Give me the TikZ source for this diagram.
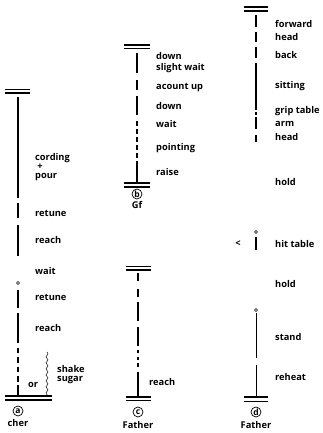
\documentclass[tikz,border=0pt]{standalone}
\usepackage{fontspec}
\setmainfont{Open Sans}
\usetikzlibrary{decorations.pathmorphing}
\tikzset{
  lab/.style={anchor=west, font=\bfseries\fontsize{9.3}{10}\selectfont, inner sep=0},
  clab/.style={anchor=center, font=\bfseries\fontsize{9.3}{10}\selectfont, inner sep=0},
  circ/.style={anchor=center, circle, draw, line width=0.7pt, inner sep=0.3pt, minimum size=10pt, font=\bfseries\fontsize{8.5}{9}\selectfont},
  seg/.style={line width=1.4pt},
  thinseg/.style={line width=0.9pt},
  bar/.style={line width=1.2pt},
  ring/.style={line width=0.6pt},
}
\begin{document}
\begin{tikzpicture}[x=1pt,y=-1pt]
\useasboundingbox (0,0) rectangle (323,433);
% ---------- column a ----------
\draw[bar] (5,89.5) -- (30,89.5); \draw[bar] (5,93) -- (30,93);
\foreach \a/\b in {97/198,203/218,225/256,290/308,313/343,348/353,357/363,367/372,376/382,385/396}
  \draw[seg] (18,\a) -- (18,\b);
\draw[ring] (18,283) circle (1.5);
\draw[bar] (5,396) -- (52,396); \draw[bar] (5,400) -- (52,400);
\draw[line width=0.5pt, decorate, decoration={snake, amplitude=1pt, segment length=6pt}] (47,352) -- (47,396);
\node[lab] (a1) at (35,158) {cording};
\node[clab] (a2) at (40,167) {+};
\node[lab] (a3) at (35,177) {pour};
\node[lab] (a4) at (35,213) {retune};
\node[lab] (a5) at (35,240) {reach};
\node[lab] (a6) at (35,271) {wait};
\node[lab] (a7) at (35,297) {retune};
\node[lab] (a8) at (35,328) {reach};
\node[lab] (a9) at (57,369) {shake};
\node[lab] (a10) at (57,380) {sugar};
\node[clab] (a11) at (33,385) {or};
\node[circ] (ac) at (18,411) {a};
\node[clab] (an) at (18,423) {cher};
% ---------- column b ----------
\draw[bar] (124,45) -- (150,45); \draw[bar] (124,48.5) -- (150,48.5);
\foreach \a/\b in {53/73,80/90,96/115,121/126,129/134,137/142,145/150,153/158,161/183}
  \draw[seg] (137,\a) -- (137,\b);
\draw[bar] (124,183) -- (150,183); \draw[bar] (124,187) -- (150,187);
\node[lab] (b1) at (156,56) {down};
\node[lab] (b2) at (156,68) {slight wait};
\node[lab] (b3) at (156,88) {acount up};
\node[lab] (b4) at (156,106) {down};
\node[lab] (b5) at (156,124) {wait};
\node[lab] (b6) at (156,148) {pointing};
\node[lab] (b7) at (156,172) {raise};
\node[circ] (bc) at (137,194) {b};
\node[clab] (bn) at (137,205) {Gf};
% ---------- column c ----------
\draw[bar] (126,266.5) -- (151,266.5); \draw[bar] (126,270) -- (151,270);
\foreach \a/\b in {273/281,289/297,302/321,327/346,350/353,357/360,363/367,372/397}
  \draw[seg] (138,\a) -- (138,\b);
\draw[bar] (126,397) -- (151,397); \draw[bar] (126,400.5) -- (151,400.5);
\node[lab] (c1) at (149,382) {reach};
\node[circ] (cc) at (138,412) {c};
\node[clab] (cn) at (138,425) {Father};
% ---------- column d ----------
\draw[bar] (244,7) -- (268,7); \draw[bar] (244,11) -- (268,11);
\foreach \a/\b in {15/27,32/42,47/58,63/110,112/115,117/129,135/142,237/250}
  \draw[seg] (256,\a) -- (256,\b);
\draw[ring] (256,232) circle (1.5);
\draw[ring] (256,310) circle (1.5);
\foreach \a/\b in {313/358,365/397}
  \draw[thinseg] (256,\a) -- (256,\b);
\draw[bar] (244,397) -- (268,397); \draw[bar] (244,401.5) -- (268,401.5);
\node[lab] (d1) at (275,24) {forward};
\node[lab] (d2) at (275,37) {head};
\node[lab] (d3) at (275,55) {back};
\node[lab] (d4) at (275,86) {sitting};
\node[lab] (d5) at (275,111) {grip table};
\node[lab] (d6) at (275,124) {arm};
\node[lab] (d7) at (275,137) {head};
\node[lab] (d8) at (275,182) {hold};
\node[clab] (d9) at (238,244) {<};
\node[lab] (d10) at (275,244) {hit table};
\node[lab] (d11) at (275,284) {hold};
\node[lab] (d12) at (275,337) {stand};
\node[lab] (d13) at (275,377) {reheat};
\node[circ] (dc) at (256,412) {d};
\node[clab] (dn) at (256,425) {Father};
\end{tikzpicture}
\end{document}
